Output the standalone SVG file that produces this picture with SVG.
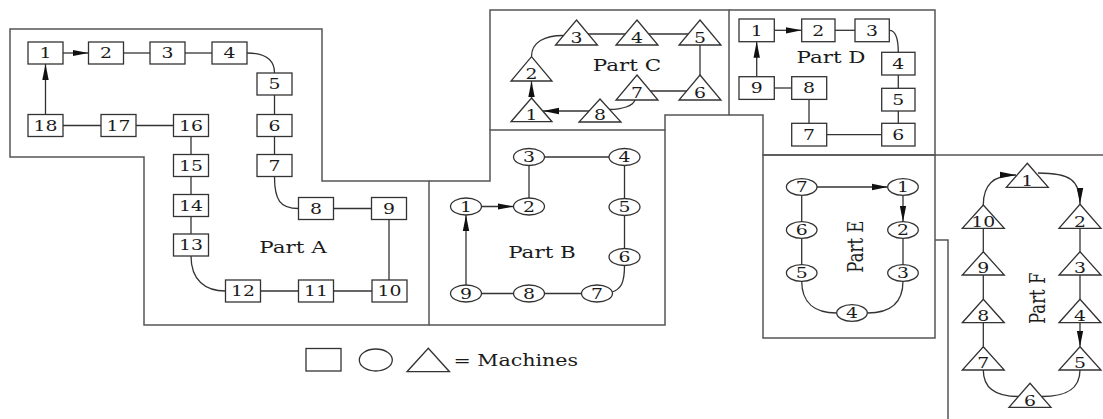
<svg xmlns="http://www.w3.org/2000/svg" width="1103" height="419" viewBox="0 0 1103 419">
<defs>
<style>
.reg{fill:none;stroke:#555;stroke-width:1.5}
.sq,.ci,.tr{fill:#fff;stroke:#333;stroke-width:1.3}
.ln{fill:none;stroke:#333;stroke-width:1.3}
.n{font-family:"DejaVu Serif","Liberation Serif",serif;font-size:14.5px;fill:#1a1a1a;text-anchor:middle}
.lb{font-family:"DejaVu Serif","Liberation Serif",serif;font-size:16.5px;fill:#1a1a1a;text-anchor:middle}
</style>
<marker id="ar" markerUnits="userSpaceOnUse" markerWidth="16" markerHeight="8" refX="16" refY="4" orient="auto">
<path d="M0,0.8 L16,4 L0,7.2 Z" fill="#111"/>
</marker>
</defs>
<rect width="1103" height="419" fill="#fff"/>

<g id="regions">
<path class="reg" d="M10,29 H322 V181 H429 V325 H144 V157 H10 Z"/>
<path class="reg" d="M429,181 H490 V130 H665 V325 H429"/>
<path class="reg" d="M490,130 V10 H729 V115 H665 V130"/>
<path class="reg" d="M729,10 H935 V155 H763 V115 H729"/>
<path class="reg" d="M763,155 H935 V338 H763 Z"/>
<path class="reg" d="M935,155 H1103"/>
<path class="reg" d="M935,240 H948 V419"/>
</g>

<g id="connectors">
<!-- Part A -->
<line class="ln" x1="63" y1="53" x2="88.5" y2="53" marker-end="url(#ar)"/>
<line class="ln" x1="123.5" y1="53" x2="150" y2="53"/>
<line class="ln" x1="185" y1="53" x2="212" y2="53"/>
<path class="ln" d="M247,53 Q274.5,53 274.5,73"/>
<line class="ln" x1="274.5" y1="95" x2="274.5" y2="114.5"/>
<line class="ln" x1="274.5" y1="136.5" x2="274.5" y2="154.5"/>
<path class="ln" d="M274.5,176.5 C274.5,200 280,208.5 298.5,208.5"/>
<line class="ln" x1="333.5" y1="208.5" x2="371.5" y2="208.5"/>
<line class="ln" x1="389" y1="219.5" x2="389" y2="280"/>
<line class="ln" x1="333.5" y1="291" x2="372" y2="291"/>
<line class="ln" x1="260.5" y1="291" x2="298.5" y2="291"/>
<path class="ln" d="M191,256 C191,280 205,291 225.5,291"/>
<line class="ln" x1="191" y1="234" x2="191" y2="216.5"/>
<line class="ln" x1="191" y1="194.5" x2="191" y2="176.5"/>
<line class="ln" x1="191" y1="154.5" x2="191" y2="136.5"/>
<line class="ln" x1="136" y1="125.5" x2="173.5" y2="125.5"/>
<line class="ln" x1="63" y1="125.5" x2="101" y2="125.5"/>
<line class="ln" x1="45.5" y1="114.5" x2="45.5" y2="64" marker-end="url(#ar)"/>
<!-- Part B -->
<line class="ln" x1="481.5" y1="206.5" x2="513.5" y2="206.5" marker-end="url(#ar)"/>
<line class="ln" x1="529" y1="198" x2="529" y2="165.5"/>
<line class="ln" x1="544.5" y1="157" x2="609" y2="157"/>
<line class="ln" x1="624.5" y1="165.5" x2="624.5" y2="198.5"/>
<line class="ln" x1="624.5" y1="215.5" x2="624.5" y2="248.5"/>
<path class="ln" d="M624.5,265.5 C624.5,283 621,289 612,292"/>
<line class="ln" x1="544.5" y1="293.5" x2="581.5" y2="293.5"/>
<line class="ln" x1="481.5" y1="293.5" x2="513.5" y2="293.5"/>
<line class="ln" x1="466" y1="285" x2="466" y2="215" marker-end="url(#ar)"/>
<!-- Part C -->
<path class="ln" d="M531.5,56.5 C531.5,42 545,35.5 563,35.5"/>
<line class="ln" x1="588" y1="34" x2="626" y2="34"/>
<line class="ln" x1="648" y1="34" x2="689" y2="34"/>
<line class="ln" x1="700" y1="45" x2="700" y2="75"/>
<line class="ln" x1="687" y1="91" x2="650" y2="91"/>
<path class="ln" d="M635,100 C633,106 622,109.5 609,109.5"/>
<line class="ln" x1="589" y1="111" x2="543" y2="111" marker-end="url(#ar)"/>
<line class="ln" x1="531.5" y1="98" x2="531.5" y2="81" marker-end="url(#ar)"/>
<!-- Part D -->
<line class="ln" x1="774.3" y1="30.3" x2="801.7" y2="30.3" marker-end="url(#ar)"/>
<line class="ln" x1="835" y1="30.3" x2="855" y2="30.3"/>
<path class="ln" d="M889.3,30.3 Q898.3,30.3 898.3,52.3"/>
<line class="ln" x1="898.3" y1="75" x2="898.3" y2="88.3"/>
<line class="ln" x1="898.3" y1="111" x2="898.3" y2="123.3"/>
<line class="ln" x1="881.7" y1="134.7" x2="826.7" y2="134.7"/>
<line class="ln" x1="809" y1="123.3" x2="809" y2="99.3"/>
<line class="ln" x1="791.7" y1="88" x2="774.3" y2="88"/>
<line class="ln" x1="756.7" y1="76.7" x2="756.7" y2="41.7" marker-end="url(#ar)"/>
<!-- Part E -->
<line class="ln" x1="816.7" y1="187" x2="887.7" y2="187" marker-end="url(#ar)"/>
<line class="ln" x1="903" y1="195.3" x2="903" y2="221.7" marker-end="url(#ar)"/>
<line class="ln" x1="903" y1="238.3" x2="903" y2="265"/>
<path class="ln" d="M903,281 C903,303 890,313 867.5,313"/>
<path class="ln" d="M801.7,281 C801.7,303 815,313 836.5,313"/>
<line class="ln" x1="801.7" y1="238.3" x2="801.7" y2="265"/>
<line class="ln" x1="801.7" y1="195.3" x2="801.7" y2="221.7"/>
<!-- Part F -->
<path class="ln" d="M983.3,205 C983.3,185 993,175 1016,175" marker-end="url(#ar)"/>
<path class="ln" d="M1038,173 C1070,173 1080,180 1080,204" marker-end="url(#ar)"/>
<line class="ln" x1="1080" y1="228.3" x2="1080" y2="251.7"/>
<line class="ln" x1="1080" y1="275" x2="1080" y2="299.3"/>
<line class="ln" x1="1080" y1="322.7" x2="1080" y2="346.7" marker-end="url(#ar)"/>
<path class="ln" d="M1080,370 C1080,390 1065,396.5 1042,396.5"/>
<path class="ln" d="M983.3,370 C983.3,390 998,396.5 1018,396.5"/>
<line class="ln" x1="983.3" y1="228.3" x2="983.3" y2="251.7"/>
<line class="ln" x1="983.3" y1="275" x2="983.3" y2="299"/>
<line class="ln" x1="983.3" y1="322.7" x2="983.3" y2="346.7"/>
</g>

<!-- Part A nodes -->
<g id="A1"><rect class="sq" x="28" y="42" width="35" height="22"/><text class="n" transform="translate(45.5,53) scale(1.3,1)" y="5.3">1</text></g>
<g id="A2"><rect class="sq" x="88.5" y="42" width="35" height="22"/><text class="n" transform="translate(106,53) scale(1.3,1)" y="5.3">2</text></g>
<g id="A3"><rect class="sq" x="150" y="42" width="35" height="22"/><text class="n" transform="translate(167.5,53) scale(1.3,1)" y="5.3">3</text></g>
<g id="A4"><rect class="sq" x="212" y="42" width="35" height="22"/><text class="n" transform="translate(229.5,53) scale(1.3,1)" y="5.3">4</text></g>
<g id="A5"><rect class="sq" x="257" y="73" width="35" height="22"/><text class="n" transform="translate(274.5,84) scale(1.3,1)" y="5.3">5</text></g>
<g id="A6"><rect class="sq" x="257" y="114.5" width="35" height="22"/><text class="n" transform="translate(274.5,125.5) scale(1.3,1)" y="5.3">6</text></g>
<g id="A7"><rect class="sq" x="257" y="154.5" width="35" height="22"/><text class="n" transform="translate(274.5,165.5) scale(1.3,1)" y="5.3">7</text></g>
<g id="A8"><rect class="sq" x="298.5" y="197.5" width="35" height="22"/><text class="n" transform="translate(316,208.5) scale(1.3,1)" y="5.3">8</text></g>
<g id="A9"><rect class="sq" x="371.5" y="197.5" width="35" height="22"/><text class="n" transform="translate(389,208.5) scale(1.3,1)" y="5.3">9</text></g>
<g id="A10"><rect class="sq" x="372" y="280" width="35" height="22"/><text class="n" transform="translate(389.5,291) scale(1.3,1)" y="5.3">10</text></g>
<g id="A11"><rect class="sq" x="298.5" y="280" width="35" height="22"/><text class="n" transform="translate(316,291) scale(1.3,1)" y="5.3">11</text></g>
<g id="A12"><rect class="sq" x="225.5" y="280" width="35" height="22"/><text class="n" transform="translate(243,291) scale(1.3,1)" y="5.3">12</text></g>
<g id="A13"><rect class="sq" x="173.5" y="234" width="35" height="22"/><text class="n" transform="translate(191,245) scale(1.3,1)" y="5.3">13</text></g>
<g id="A14"><rect class="sq" x="173.5" y="194.5" width="35" height="22"/><text class="n" transform="translate(191,205.5) scale(1.3,1)" y="5.3">14</text></g>
<g id="A15"><rect class="sq" x="173.5" y="154.5" width="35" height="22"/><text class="n" transform="translate(191,165.5) scale(1.3,1)" y="5.3">15</text></g>
<g id="A16"><rect class="sq" x="173.5" y="114.5" width="35" height="22"/><text class="n" transform="translate(191,125.5) scale(1.3,1)" y="5.3">16</text></g>
<g id="A17"><rect class="sq" x="101" y="114.5" width="35" height="22"/><text class="n" transform="translate(118.5,125.5) scale(1.3,1)" y="5.3">17</text></g>
<g id="A18"><rect class="sq" x="28" y="114.5" width="35" height="22"/><text class="n" transform="translate(45.5,125.5) scale(1.3,1)" y="5.3">18</text></g>
<g id="labelA"><text class="lb" transform="translate(293,247) scale(1.3,1)" y="6">Part A</text></g>

<!-- Part B nodes -->
<g id="B1"><ellipse class="ci" cx="466" cy="206.5" rx="15.5" ry="8.5"/><text class="n" transform="translate(466,206.5) scale(1.3,1)" y="5.3">1</text></g>
<g id="B2"><ellipse class="ci" cx="529" cy="206.5" rx="15.5" ry="8.5"/><text class="n" transform="translate(529,206.5) scale(1.3,1)" y="5.3">2</text></g>
<g id="B3"><ellipse class="ci" cx="529" cy="157" rx="15.5" ry="8.5"/><text class="n" transform="translate(529,157) scale(1.3,1)" y="5.3">3</text></g>
<g id="B4"><ellipse class="ci" cx="624.5" cy="157" rx="15.5" ry="8.5"/><text class="n" transform="translate(624.5,157) scale(1.3,1)" y="5.3">4</text></g>
<g id="B5"><ellipse class="ci" cx="624.5" cy="207" rx="15.5" ry="8.5"/><text class="n" transform="translate(624.5,207) scale(1.3,1)" y="5.3">5</text></g>
<g id="B6"><ellipse class="ci" cx="624.5" cy="257" rx="15.5" ry="8.5"/><text class="n" transform="translate(624.5,257) scale(1.3,1)" y="5.3">6</text></g>
<g id="B7"><ellipse class="ci" cx="597" cy="293.5" rx="15.5" ry="8.5"/><text class="n" transform="translate(597,293.5) scale(1.3,1)" y="5.3">7</text></g>
<g id="B8"><ellipse class="ci" cx="529" cy="293.5" rx="15.5" ry="8.5"/><text class="n" transform="translate(529,293.5) scale(1.3,1)" y="5.3">8</text></g>
<g id="B9"><ellipse class="ci" cx="466" cy="293.5" rx="15.5" ry="8.5"/><text class="n" transform="translate(466,293.5) scale(1.3,1)" y="5.3">9</text></g>
<g id="labelB"><text class="lb" transform="translate(542,252) scale(1.3,1)" y="6">Part B</text></g>

<!-- Part C nodes -->
<g id="C1"><path class="tr" d="M531.5,98 L552,121.7 L511,121.7 Z"/><text class="n" transform="translate(531.5,115) scale(1.3,1)" y="5.3">1</text></g>
<g id="C2"><path class="tr" d="M531.5,56.7 L552,81 L511,81 Z"/><text class="n" transform="translate(531.5,74) scale(1.3,1)" y="5.3">2</text></g>
<g id="C3"><path class="tr" d="M576.5,20 L597.5,45 L555.5,45 Z"/><text class="n" transform="translate(576.5,38) scale(1.3,1)" y="5.3">3</text></g>
<g id="C4"><path class="tr" d="M637,20 L658,45 L616,45 Z"/><text class="n" transform="translate(637,38) scale(1.3,1)" y="5.3">4</text></g>
<g id="C5"><path class="tr" d="M700,20 L721,45 L679,45 Z"/><text class="n" transform="translate(700,38) scale(1.3,1)" y="5.3">5</text></g>
<g id="C6"><path class="tr" d="M700,75 L721,100 L679,100 Z"/><text class="n" transform="translate(700,93) scale(1.3,1)" y="5.3">6</text></g>
<g id="C7"><path class="tr" d="M637,75 L658,100 L616,100 Z"/><text class="n" transform="translate(637,93) scale(1.3,1)" y="5.3">7</text></g>
<g id="C8"><path class="tr" d="M600,99 L621,122 L579,122 Z"/><text class="n" transform="translate(600,115) scale(1.3,1)" y="5.3">8</text></g>
<g id="labelC"><text class="lb" transform="translate(627,65) scale(1.3,1)" y="6">Part C</text></g>

<!-- Part D nodes -->
<g id="D1"><rect class="sq" x="739" y="19" width="35.3" height="22.7"/><text class="n" transform="translate(756.7,30.3) scale(1.3,1)" y="5.3">1</text></g>
<g id="D2"><rect class="sq" x="801.7" y="19" width="33.3" height="22.7"/><text class="n" transform="translate(818.3,30.3) scale(1.3,1)" y="5.3">2</text></g>
<g id="D3"><rect class="sq" x="855" y="19" width="34.3" height="22.7"/><text class="n" transform="translate(872,30.3) scale(1.3,1)" y="5.3">3</text></g>
<g id="D4"><rect class="sq" x="881.7" y="52.3" width="33.3" height="22.7"/><text class="n" transform="translate(898.3,63.7) scale(1.3,1)" y="5.3">4</text></g>
<g id="D5"><rect class="sq" x="881.7" y="88.3" width="33.3" height="22.7"/><text class="n" transform="translate(898.3,99.7) scale(1.3,1)" y="5.3">5</text></g>
<g id="D6"><rect class="sq" x="881.7" y="123.3" width="33.3" height="22.7"/><text class="n" transform="translate(898.3,134.7) scale(1.3,1)" y="5.3">6</text></g>
<g id="D7"><rect class="sq" x="791.7" y="123.3" width="35" height="22.7"/><text class="n" transform="translate(809,134.7) scale(1.3,1)" y="5.3">7</text></g>
<g id="D8"><rect class="sq" x="791.7" y="76.7" width="35" height="22.7"/><text class="n" transform="translate(809,88) scale(1.3,1)" y="5.3">8</text></g>
<g id="D9"><rect class="sq" x="739" y="76.7" width="35.3" height="22.7"/><text class="n" transform="translate(756.7,88) scale(1.3,1)" y="5.3">9</text></g>
<g id="labelD"><text class="lb" transform="translate(831,56.7) scale(1.3,1)" y="6">Part D</text></g>

<!-- Part E nodes -->
<g id="E1"><ellipse class="ci" cx="903" cy="187" rx="15.3" ry="8.3"/><text class="n" transform="translate(903,187) scale(1.3,1)" y="5.3">1</text></g>
<g id="E2"><ellipse class="ci" cx="903" cy="230" rx="15.3" ry="8.3"/><text class="n" transform="translate(903,230) scale(1.3,1)" y="5.3">2</text></g>
<g id="E3"><ellipse class="ci" cx="903" cy="273" rx="15.3" ry="8.3"/><text class="n" transform="translate(903,273) scale(1.3,1)" y="5.3">3</text></g>
<g id="E4"><ellipse class="ci" cx="852" cy="313" rx="15.3" ry="8.3"/><text class="n" transform="translate(852,313) scale(1.3,1)" y="5.3">4</text></g>
<g id="E5"><ellipse class="ci" cx="801.7" cy="273" rx="15.3" ry="8.3"/><text class="n" transform="translate(801.7,273) scale(1.3,1)" y="5.3">5</text></g>
<g id="E6"><ellipse class="ci" cx="801.7" cy="230" rx="15.3" ry="8.3"/><text class="n" transform="translate(801.7,230) scale(1.3,1)" y="5.3">6</text></g>
<g id="E7"><ellipse class="ci" cx="801.7" cy="187" rx="15.3" ry="8.3"/><text class="n" transform="translate(801.7,187) scale(1.3,1)" y="5.3">7</text></g>
<g id="labelE"><text class="lb" transform="translate(855,246.7) scale(1.3,1) rotate(-90)" y="6">Part E</text></g>

<!-- Part F nodes -->
<g id="F1"><path class="tr" d="M1027.3,163.3 L1048.3,187.3 L1006.3,187.3 Z"/><text class="n" transform="translate(1027.3,180.3) scale(1.3,1)" y="5.3">1</text></g>
<g id="F2"><path class="tr" d="M1080,204.3 L1101,228.3 L1059,228.3 Z"/><text class="n" transform="translate(1080,221.3) scale(1.3,1)" y="5.3">2</text></g>
<g id="F3"><path class="tr" d="M1080,251.7 L1101,275 L1059,275 Z"/><text class="n" transform="translate(1080,268) scale(1.3,1)" y="5.3">3</text></g>
<g id="F4"><path class="tr" d="M1080,299.3 L1101,322.7 L1059,322.7 Z"/><text class="n" transform="translate(1080,315.7) scale(1.3,1)" y="5.3">4</text></g>
<g id="F5"><path class="tr" d="M1080,346.7 L1101,370 L1059,370 Z"/><text class="n" transform="translate(1080,363) scale(1.3,1)" y="5.3">5</text></g>
<g id="F6"><path class="tr" d="M1030,383.3 L1051,407.3 L1009,407.3 Z"/><text class="n" transform="translate(1030,400.3) scale(1.3,1)" y="5.3">6</text></g>
<g id="F7"><path class="tr" d="M983.3,346.7 L1004.3,370 L962.3,370 Z"/><text class="n" transform="translate(983.3,363) scale(1.3,1)" y="5.3">7</text></g>
<g id="F8"><path class="tr" d="M983.3,299.3 L1004.3,322.7 L962.3,322.7 Z"/><text class="n" transform="translate(983.3,315.7) scale(1.3,1)" y="5.3">8</text></g>
<g id="F9"><path class="tr" d="M983.3,251.7 L1004.3,275 L962.3,275 Z"/><text class="n" transform="translate(983.3,268) scale(1.3,1)" y="5.3">9</text></g>
<g id="F10"><path class="tr" d="M983.3,205 L1004.3,228.3 L962.3,228.3 Z"/><text class="n" transform="translate(983.3,221.3) scale(1.3,1)" y="5.3">10</text></g>
<g id="labelF"><text class="lb" transform="translate(1036.7,298.3) scale(1.3,1) rotate(-90)" y="6">Part F</text></g>

<!-- Legend -->
<g id="legend">
<rect class="sq" x="306" y="348.5" width="35" height="22.5"/>
<ellipse class="ci" cx="375.8" cy="360" rx="16.5" ry="11"/>
<path class="tr" d="M428.3,348.3 L449.5,371.7 L407,371.7 Z"/>
<text class="lb" transform="translate(453.5,366) scale(1.25,1)" style="text-anchor:start">= Machines</text>
</g>
</svg>
